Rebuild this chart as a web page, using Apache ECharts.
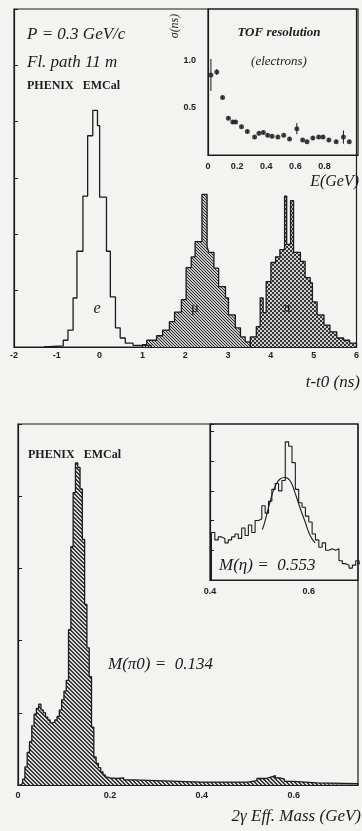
<!DOCTYPE html>
<html>
<head>
<meta charset="utf-8">
<script src="https://cdn.jsdelivr.net/npm/echarts@6/dist/echarts.min.js"></script>
<style>
  html, body { margin: 0; padding: 0; background: #f3f3f1; }
  #chart { width: 362px; height: 831px; }
</style>
</head>
<body>
<div id="chart"></div>
<script>
// ---- top panel : time of flight, t-t0 (ns) ----
var eEdges   = [-1.3, -0.85, -0.74, -0.62, -0.53, -0.39, -0.28, -0.16, -0.05, 0.0, 0.16, 0.25, 0.37, 0.48, 0.60, 0.78, 1.2];
var eCounts  = [2, 12, 30, 87, 170, 268, 375, 420, 393, 266, 170, 89, 34, 16, 7, 3];

var muEdges  = [1.0, 1.10, 1.33, 1.47, 1.63, 1.75, 1.91, 2.02, 2.14, 2.23, 2.39, 2.51, 2.55, 2.67, 2.78, 2.94, 3.01, 3.17, 3.29, 3.40, 3.52];
var muCounts = [4, 12, 20, 30, 45, 62, 84, 141, 160, 187, 271, 178, 168, 140, 107, 87, 57, 34, 18, 9];

var piEdges  = [3.52, 3.66, 3.75, 3.82, 3.89, 4.00, 4.11, 4.21, 4.32, 4.37, 4.46, 4.53, 4.69, 4.80, 4.92, 4.97, 5.08, 5.24, 5.38, 5.54, 5.70, 5.84, 6.0];
var piCounts = [18, 36, 87, 61, 116, 150, 160, 173, 268, 182, 260, 168, 152, 123, 114, 80, 57, 39, 27, 16, 12, 7];

var tofTicks = [-2, -1, 0, 1, 2, 3, 4, 5, 6];

// ---- TOF resolution inset ----
var tofE     = [0.02, 0.06, 0.10, 0.14, 0.17, 0.19, 0.23, 0.27, 0.32, 0.35, 0.38, 0.41, 0.44, 0.48, 0.52, 0.56, 0.61, 0.65, 0.68, 0.72, 0.76, 0.79, 0.83, 0.88, 0.93, 0.97];
var tofSigma = [0.85, 0.88, 0.61, 0.39, 0.35, 0.35, 0.30, 0.25, 0.19, 0.23, 0.24, 0.21, 0.20, 0.19, 0.21, 0.17, 0.28, 0.16, 0.14, 0.18, 0.19, 0.19, 0.16, 0.14, 0.19, 0.14];
var tofErr   = [0.17, 0.03, 0.02, 0.02, 0.02, 0.02, 0.02, 0.02, 0.02, 0.02, 0.02, 0.02, 0.02, 0.02, 0.02, 0.02, 0.06, 0.02, 0.02, 0.02, 0.02, 0.02, 0.02, 0.02, 0.07, 0.02];

// ---- bottom panel : 2 gamma effective mass (GeV) ----
var pi0Edges  = [0.005, 0.010, 0.015, 0.020, 0.025, 0.030, 0.035, 0.040, 0.045, 0.050,
                 0.055, 0.060, 0.065, 0.070, 0.075, 0.080, 0.085, 0.090, 0.095, 0.100,
                 0.105, 0.110, 0.115, 0.120, 0.125, 0.130, 0.135, 0.140, 0.145, 0.150,
                 0.155, 0.160, 0.165, 0.170, 0.175, 0.180, 0.185, 0.190, 0.195, 0.200,
                 0.215, 0.23, 0.25, 0.30, 0.35, 0.40, 0.45, 0.50, 0.52, 0.54,
                 0.55, 0.56, 0.57, 0.58, 0.60, 0.65, 0.74];
var pi0Counts = [2, 8, 25, 45, 60, 82, 98, 106, 112, 104,
                 100, 94, 90, 86, 87, 90, 95, 104, 118, 130,
                 145, 215, 330, 405, 446, 440, 410, 340, 250, 190,
                 150, 80, 39, 30, 24, 18, 14, 11, 10,
                 9, 10, 7, 6, 5, 4, 4, 4, 6, 9,
                 11, 13, 10, 8, 5, 3, 2];
var massTicks = [0, 0.2, 0.4, 0.6];

// ---- eta inset ----
var etaStart  = 0.403;
var etaWidth  = 0.0068;
var etaCounts = [32, 27, 29, 28, 25, 27, 29, 31, 28, 35, 30, 37, 32, 40, 41, 50, 45, 53, 61, 65,
                 60, 67, 93, 90, 79, 61, 52, 49, 43, 39, 31, 27, 22, 25, 20, 21, 20, 21, 13, 11,
                 10, 8, 10, 13, 11];
var etaFitM = [0.506, 0.511, 0.522, 0.532, 0.542, 0.552, 0.562, 0.572, 0.582, 0.593, 0.603, 0.613];
var etaFitY = [34, 39, 53, 63, 68, 69, 67, 59, 49, 39, 30, 25];

// histogram outline points for a step line
function stepData(edges, counts) {
    var d = [[edges[0], 0]];
    for (var i = 0; i < counts.length; i++) d.push([edges[i], counts[i]]);
    d.push([edges[edges.length - 1], 0]);
    return d;
}
var etaEdges = [];
for (var i = 0; i <= etaCounts.length; i++) etaEdges.push(etaStart + i * etaWidth);

// fill patterns
function pattern(size, bg, fg, cells) {
    var c = document.createElement('canvas');
    c.width = c.height = size;
    var g = c.getContext('2d');
    g.fillStyle = bg; g.fillRect(0, 0, size, size);
    g.fillStyle = fg;
    cells.forEach(function (p) { g.fillRect(p[0], p[1], p[2] || 1, p[3] || 1); });
    return { image: c, repeat: 'repeat' };
}
var hatchMu  = pattern(3, '#c4c4c4', '#2e2e2e', [[0, 0], [1, 1], [2, 2]]);
var hatchPi  = pattern(4, '#cfcfcf', '#333333', [[0, 0, 2, 2], [2, 2, 2, 2]]);
var hatchPi0 = pattern(4, '#dadada', '#383838', [[0, 0, 2, 1], [1, 1, 2, 1], [2, 2, 2, 1], [3, 3, 1, 1], [0, 3, 1, 1]]);

var ink = '#1c1c1c';
var labelFont = {color: '#222', fontSize: 9, fontWeight: 'bold', fontFamily: 'Liberation Sans'};
var serif = '"Liberation Serif"';

function txt(s, x, y, font, align, rot) {
    return {
        type: 'text', x: x, y: y, rotation: rot || 0, z: 100,
        style: {text: s, font: font, fill: ink, textAlign: align || 'left', align: align || 'left',
                textVerticalAlign: 'middle', verticalAlign: 'middle'}
    };
}

function yAx(idx, max, interval, extra) {
    return Object.assign({gridIndex: idx, type: 'value', min: 0, max: max, interval: interval,
        axisLine: {show: true, onZero: false, lineStyle: {color: ink, width: 1.2}},
        axisTick: {inside: true, length: 4, lineStyle: {color: ink}},
        axisLabel: {show: false}, splitLine: {show: false}}, extra || {});
}
function xAx(idx, min, max, interval, margin, fmt) {
    return {gridIndex: idx, type: 'value', min: min, max: max, interval: interval,
        axisLine: {onZero: false, lineStyle: {color: ink, width: 1.2}}, axisTick: {show: false}, splitLine: {show: false},
        axisLabel: Object.assign({margin: margin, formatter: fmt}, labelFont)};
}

var myChart = echarts.init(document.getElementById('chart'), null, {renderer: 'canvas'});

var option = {
    backgroundColor: '#f3f3f1',
    animation: false,
    grid: [
        {left: 14, top: 9, width: 344, height: 338, show: true, borderColor: ink, borderWidth: 1.2},
        {left: 208, top: 9, width: 150, height: 146, show: true, borderColor: ink, borderWidth: 1.2},
        {left: 18, top: 424, width: 340, height: 361, show: true, borderColor: ink, borderWidth: 1.2},
        {left: 210, top: 424, width: 148, height: 156, show: true, borderColor: ink, borderWidth: 1.2}
    ],
    xAxis: [
        xAx(0, -2, 6, 1, 4, function (v) { return tofTicks.indexOf(v) >= 0 ? String(v) : ''; }),
        xAx(1, 0, 1.03, 0.2, 7, function (v) { return v > 0.9 ? '' : (v === 0 ? '0' : v.toFixed(1)); }),
        xAx(2, 0, 0.74, 0.2, 6, function (v) {
            for (var k = 0; k < massTicks.length; k++) if (Math.abs(v - massTicks[k]) < 1e-6) return v === 0 ? '0' : v.toFixed(1);
            return '';
        }),
        xAx(3, 0.4, 0.7, 0.2, 7, function (v) { return v > 0.65 ? '' : v.toFixed(1); })
    ],
    yAxis: [
        yAx(0, 600, 100),
        yAx(1, 1.55, 0.5, {axisTick: {show: false},
            axisLabel: Object.assign({margin: 12, formatter: function (v) { return (v === 0.5 || v === 1) ? v.toFixed(1) : ''; }}, labelFont)}),
        yAx(2, 500, 100),
        yAx(3, 105, 20)
    ],
    series: [
        {type: 'line', xAxisIndex: 0, yAxisIndex: 0, step: 'end', symbol: 'none',
         lineStyle: {color: ink, width: 1.3}, data: stepData(eEdges, eCounts)},
        {type: 'line', xAxisIndex: 0, yAxisIndex: 0, step: 'end', symbol: 'none',
         lineStyle: {color: ink, width: 1.3}, areaStyle: {color: hatchMu, opacity: 1}, data: stepData(muEdges, muCounts)},
        {type: 'line', xAxisIndex: 0, yAxisIndex: 0, step: 'end', symbol: 'none',
         lineStyle: {color: ink, width: 1.3}, areaStyle: {color: hatchPi, opacity: 1}, data: stepData(piEdges, piCounts)},
        {type: 'scatter', xAxisIndex: 1, yAxisIndex: 1, symbol: 'circle', symbolSize: 5,
         itemStyle: {color: ink}, data: tofE.map(function (v, i) { return [v, tofSigma[i]]; })},
        {type: 'custom', xAxisIndex: 1, yAxisIndex: 1,
         renderItem: function (params, api) {
             var x = api.value(0), y = api.value(1), e = api.value(2);
             var a = api.coord([x, y - e]), b = api.coord([x, y + e]);
             return {type: 'line', shape: {x1: a[0], y1: a[1], x2: b[0], y2: b[1]}, style: {stroke: ink, lineWidth: 1}};
         },
         data: tofE.map(function (v, i) { return [v, tofSigma[i], tofErr[i]]; })},
        {type: 'line', xAxisIndex: 2, yAxisIndex: 2, step: 'end', symbol: 'none',
         lineStyle: {color: ink, width: 1.3}, areaStyle: {color: hatchPi0, opacity: 1}, data: stepData(pi0Edges, pi0Counts)},
        {type: 'line', xAxisIndex: 3, yAxisIndex: 3, step: 'end', symbol: 'none',
         lineStyle: {color: ink, width: 1.1}, data: stepData(etaEdges, etaCounts)},
        {type: 'line', xAxisIndex: 3, yAxisIndex: 3, smooth: true, symbol: 'none',
         lineStyle: {color: ink, width: 1.1}, data: etaFitM.map(function (v, i) { return [v, etaFitY[i]]; })}
    ],
    graphic: [
        txt('P = 0.3 GeV/c', 27, 35, 'italic 17px ' + serif),
        txt('Fl. path 11 m', 27, 63, 'italic 17px ' + serif),
        txt('PHENIX   EMCal', 27, 86, 'bold 12px ' + serif),
        txt('σ(ns)', 175, 26, 'italic 12px ' + serif, 'center', Math.PI / 2),
        txt('TOF resolution', 279, 33, 'bold italic 13px ' + serif, 'center'),
        txt('(electrons)', 279, 62, 'italic 13px ' + serif, 'center'),
        txt('E(GeV)', 359, 182, 'italic 16px ' + serif, 'right'),
        txt('e', 97, 309, 'italic 16px ' + serif, 'center'),
        txt('μ', 195, 308, '15px ' + serif, 'center'),
        txt('π', 287, 308, '15px ' + serif, 'center'),
        txt('t-t0 (ns)', 360, 383, 'italic 17px ' + serif, 'right'),
        txt('PHENIX   EMCal', 28, 455, 'bold 12px ' + serif),
        txt('M(η) =  0.553', 219, 566, 'italic 17px ' + serif),
        txt('M(π0) =  0.134', 108, 665, 'italic 17px ' + serif),
        txt('2γ Eff. Mass (GeV)', 361, 817, 'italic 17px ' + serif, 'right')
    ]
};
myChart.setOption(option);
</script>
</body>
</html>
